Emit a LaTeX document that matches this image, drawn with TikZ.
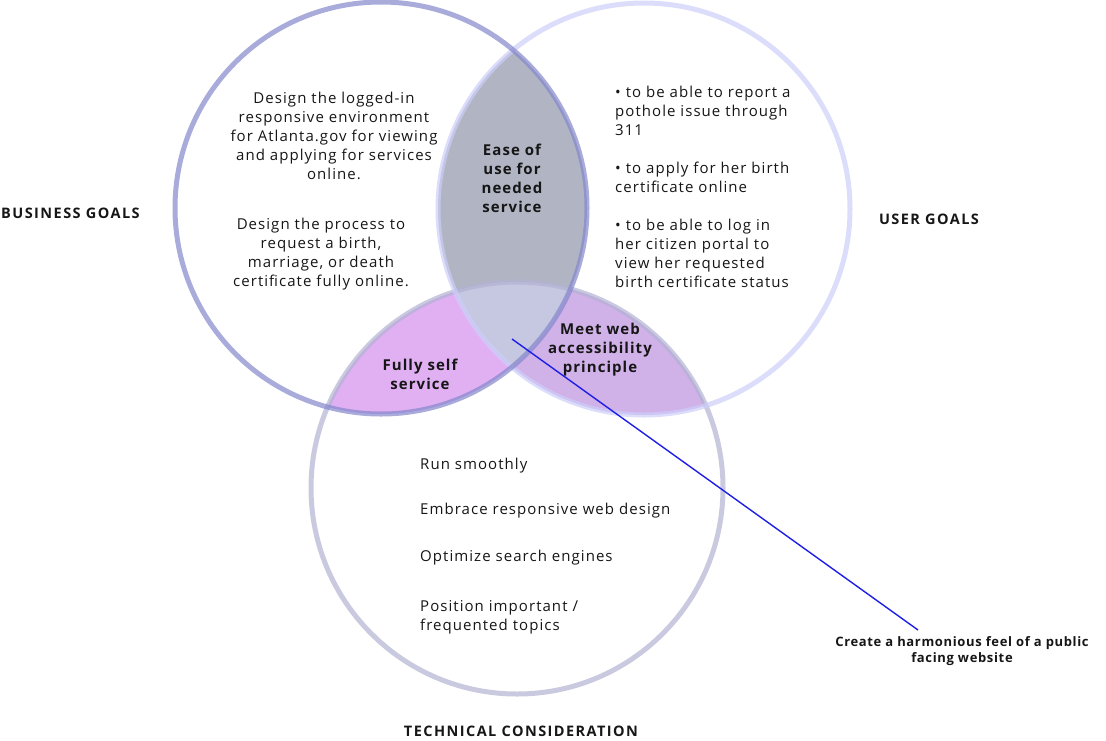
\documentclass[tikz,border=0pt]{standalone}
\usepackage{fontspec}
\setmainfont{Open Sans}[LetterSpace=7]
\definecolor{bstroke}{HTML}{8487CC}
\definecolor{ustroke}{HTML}{CDCEF9}
\definecolor{tstroke}{HTML}{B2B2D3}
\definecolor{bufill}{HTML}{B1B5C3}
\definecolor{btfill}{HTML}{E1B0F3}
\definecolor{utfill}{HTML}{D0B1E8}
\definecolor{allfill}{HTML}{C6C7E0}
\definecolor{linkblue}{HTML}{1E1EE6}
\definecolor{ink}{HTML}{161616}
\tikzset{
  ring/.style={line width=5pt, opacity=0.7},
  body/.style={inner sep=0pt, text=ink, font=\fontsize{15}{19}\selectfont},
  lens/.style={inner sep=0pt, text=ink, align=center, font=\fontsize{15}{19}\selectfont\bfseries},
  goal/.style={inner sep=0pt, text=ink, font=\fontsize{14.5}{19}\selectfont\bfseries\addfontfeatures{LetterSpace=10}},
  caption/.style={inner sep=0pt, text=ink, align=center, font=\fontsize{13}{16}\selectfont\bfseries\addfontfeatures{LetterSpace=5}},
  pointer/.style={draw=linkblue, line width=1.4pt}
}
\begin{document}
\begin{tikzpicture}[x=1pt,y=-1pt]
\useasboundingbox (0,0) rectangle (1106,740);
\coordinate (B) at (381,208);
\coordinate (U) at (644,209);
\coordinate (T) at (517,488);
\def\R{206}
% lens fills
\begin{scope}
  \clip (B) circle (\R);
  \fill[bufill] (U) circle (\R);
\end{scope}
\begin{scope}
  \clip (B) circle (\R);
  \fill[btfill] (T) circle (\R);
\end{scope}
\begin{scope}
  \clip (U) circle (\R);
  \fill[utfill] (T) circle (\R);
\end{scope}
\begin{scope}
  \clip (B) circle (\R);
  \clip (U) circle (\R);
  \fill[allfill] (T) circle (\R);
\end{scope}
% rings
\draw[ring, draw=tstroke] (T) circle (\R);
\draw[ring, draw=ustroke] (U) circle (\R);
\draw[ring, draw=bstroke] (B) circle (\R);
% business text
\node[body, align=center] (b1) at (334,136) {Design the logged-in\\responsive environment\\for Atlanta.gov for viewing\\and applying for services\\online.};
\node[body, align=center] (b2) at (321,254.5) {Design the process to\\request a birth,\\marriage, or death\\certificate fully online.};
% user text
\node[body, align=left, anchor=west] (u1) at (615,187) {• to be able to report a\\pothole issue through\\311\\[19pt]• to apply for her birth\\certificate online\\[19pt]• to be able to log in\\her citizen portal to\\view her requested\\birth certificate status};
% lens labels
\node[lens] (bu) at (512,178) {Ease of\\use for\\needed\\service};
\node[lens] (bt) at (420,374) {Fully self\\service};
\node[lens] (ut) at (600,350) {Meet web\\accessibility\\principle};
% technical text
\node[body, anchor=west] (t1) at (420,466) {Run smoothly};
\node[body, anchor=west] (t2) at (420,511) {Embrace responsive web design};
\node[body, anchor=west] (t3) at (420,558) {Optimize search engines};
\node[body, anchor=west, align=left] (t4) at (420,617) {Position important /\\frequented topics};
% goal labels
\node[goal, anchor=west] (bg) at (1,213) {BUSINESS GOALS};
\node[goal] (ug) at (929,219) {USER GOALS};
\node[goal] (tg) at (521,731) {TECHNICAL CONSIDERATION};
% caption and pointer
\node[caption] (cap) at (962,651) {Create a harmonious feel of a public\\facing website};
\coordinate (center) at (512,339);
\coordinate (capTip) at (918,630);
\draw[pointer] (center) -- (capTip);
\end{tikzpicture}
\end{document}
